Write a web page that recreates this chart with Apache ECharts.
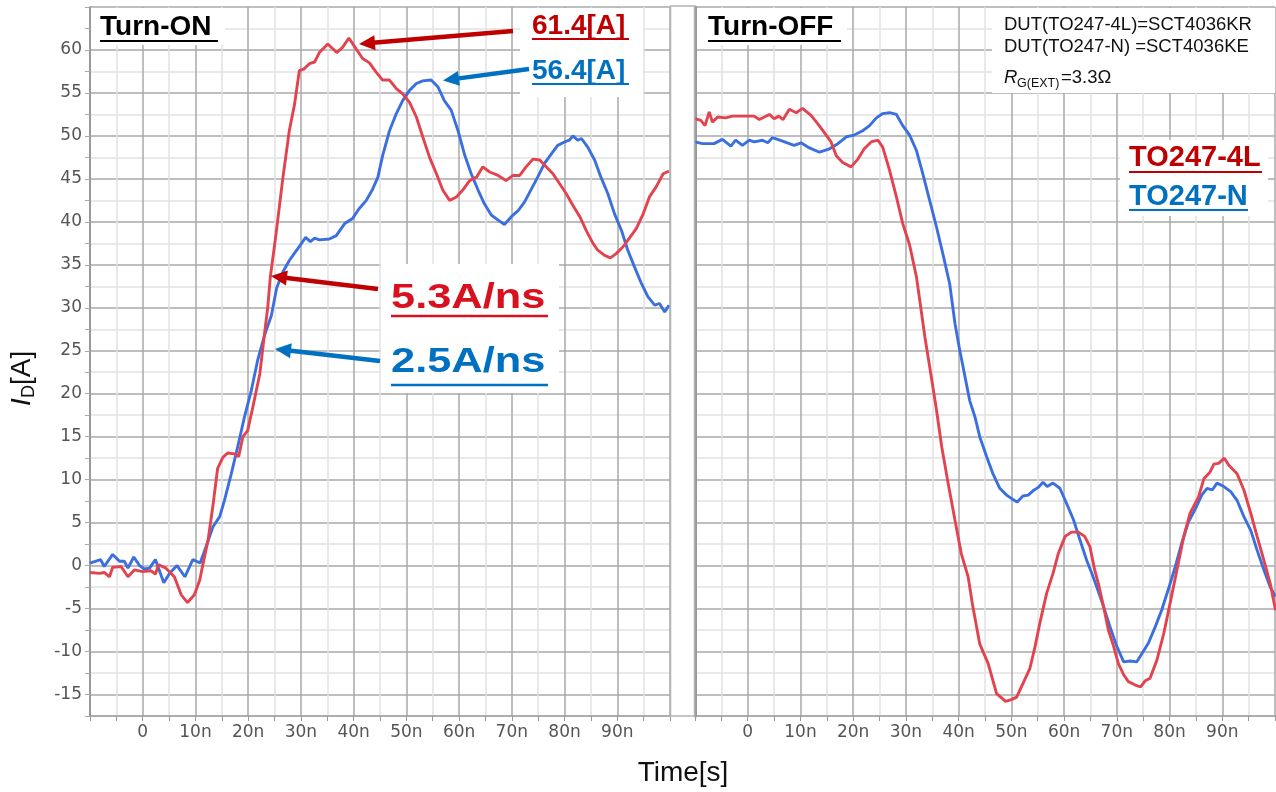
<!DOCTYPE html>
<html>
<head>
<meta charset="utf-8">
<title>Turn-ON / Turn-OFF drain current</title>
<script src="https://cdn.jsdelivr.net/npm/echarts@6/dist/echarts.min.js"></script>
<style>
html, body { margin: 0; padding: 0; background: #fff; }
#chart { width: 1276px; height: 792px; }
</style>
</head>
<body>
<div id="chart"></div>
<script>
// time in ns, current in A
var onRed = [[-10,-0.8],[-8.2,-0.9],[-7.3,-0.8],[-6.3,-1.3],[-5.7,-0.2],[-4.1,-0.1],[-2.8,-1.3],[-1.6,-0.5],[0,-0.7],[1.6,-0.6],[2.4,-1.0],[3.0,0.1],[4.4,-0.3],[6.0,-1.3],[7.3,-3.4],[8.5,-4.3],[9.8,-3.4],[10.8,-1.7],[11.6,0.7],[12.4,3.0],[13.3,6.9],[14.2,11.3],[15.2,12.6],[16.1,13.1],[17.4,13.0],[18.2,12.7],[19.0,15.0],[19.9,15.7],[20.9,18.5],[22.2,22.3],[23.1,27.0],[23.7,30.0],[24.2,33.6],[25.2,38.2],[26.6,45.2],[27.8,50.6],[28.8,53.7],[29.7,57.6],[30.6,57.8],[31.6,58.4],[32.6,58.6],[33.5,59.7],[35.1,60.7],[36.8,59.7],[37.9,60.3],[39.1,61.4],[40.5,60.1],[41.7,59.0],[43.0,58.5],[44.3,57.4],[45.5,56.5],[46.8,56.5],[48.1,55.5],[49.3,54.9],[50.6,53.9],[51.9,52.2],[53.1,49.9],[54.4,47.5],[55.7,45.6],[56.9,43.7],[58.2,42.5],[59.5,42.9],[60.7,43.7],[62.0,44.8],[63.3,45.2],[64.5,46.4],[65.8,45.8],[67.4,45.4],[68.9,44.8],[70.2,45.4],[71.5,45.4],[72.7,46.4],[74.0,47.3],[75.3,47.2],[76.5,46.4],[77.8,45.6],[79.1,44.4],[80.3,43.3],[81.6,41.9],[82.9,40.6],[84.1,39.0],[85.4,37.5],[86.3,36.7],[87.6,36.1],[88.7,35.8],[89.8,36.3],[91.1,37.1],[92.4,38.2],[93.6,39.2],[94.9,40.9],[96.1,42.9],[97.4,44.1],[98.7,45.6],[99.8,45.9]];
var onBlue = [[-10,0.3],[-9,0.5],[-8,0.7],[-7.3,-0.1],[-5.7,1.3],[-4.4,0.5],[-3.5,0.5],[-2.8,-0.3],[-1.7,1.0],[-0.6,0],[0.3,-0.4],[1.3,-0.3],[2.4,0.7],[4.0,-2.0],[5.1,-0.9],[6.5,0],[8.0,-1.3],[9.5,0.7],[10.9,0.3],[12.0,2.2],[13.3,4.5],[14.6,5.7],[15.5,7.6],[16.8,10.7],[18.0,13.8],[19.3,17.3],[20.6,20.4],[21.8,23.9],[23.1,26.8],[24.4,29.1],[25.4,32.3],[26.6,34.2],[27.8,35.5],[29.2,36.7],[30.9,38.2],[31.8,37.7],[32.6,38.1],[33.5,37.9],[35.4,38.0],[36.7,38.4],[38.3,39.8],[39.8,40.4],[41.0,41.5],[42.4,42.5],[43.6,43.8],[44.6,45.2],[45.5,47.7],[46.8,50.6],[48.1,52.6],[49.3,54.1],[50.6,55.3],[51.9,56.1],[53.1,56.4],[54.7,56.5],[56.0,55.7],[57.2,54.1],[58.5,53.0],[59.8,50.6],[61.0,47.9],[62.3,45.6],[63.6,43.7],[64.8,42.1],[66.1,40.8],[67.4,40.2],[68.6,39.7],[69.9,40.6],[71.2,41.3],[72.4,42.3],[73.7,43.8],[74.9,45.2],[76.2,46.8],[77.5,47.9],[78.7,48.9],[80.0,49.3],[80.9,49.5],[81.6,50.0],[82.5,49.5],[83.2,49.7],[84.4,48.7],[85.7,47.2],[86.9,45.2],[88.2,43.3],[89.5,40.9],[90.8,39.0],[92.0,36.7],[93.3,34.7],[94.6,32.8],[95.8,31.3],[97.1,30.3],[98.0,30.5],[99.0,29.5],[99.8,30.3]];
var offRed = [[-10,52.0],[-8.9,51.8],[-8.1,51.2],[-7.3,52.8],[-6.7,51.6],[-5.7,52.2],[-4.2,52.1],[-2.9,52.3],[-1.0,52.3],[1.2,52.3],[2.2,51.9],[4.1,52.5],[5.0,52.0],[5.9,52.3],[6.7,51.9],[7.9,53.1],[9.2,52.7],[10.4,53.2],[12.0,52.4],[13.3,51.4],[14.5,50.4],[15.8,49.3],[16.8,47.7],[18.0,46.9],[19.6,46.4],[20.9,47.3],[22.1,48.5],[23.4,49.3],[24.7,49.5],[25.6,48.7],[26.9,46.0],[28.2,42.9],[29.4,39.8],[30.7,37.3],[32.0,33.6],[33.6,26.6],[34.8,22.0],[35.8,18.1],[36.8,13.8],[38.0,9.6],[39.3,5.3],[40.5,1.4],[41.8,-1.3],[42.7,-4.8],[44.0,-9.1],[45.6,-11.4],[47.2,-14.9],[48.9,-15.8],[50.0,-15.6],[51.0,-15.3],[51.9,-14.1],[53.5,-12.0],[54.5,-9.4],[55.4,-6.7],[56.7,-3.2],[57.9,-0.9],[58.9,1.4],[60.2,3.4],[61.4,3.9],[62.7,3.9],[63.9,3.4],[64.9,2.2],[65.8,-0.5],[66.5,-2.1],[67.5,-4.8],[68.4,-7.5],[69.4,-9.4],[70.3,-11.4],[71.3,-12.7],[72.2,-13.5],[73.5,-13.9],[74.5,-14.1],[75.4,-13.4],[76.3,-13.1],[77.6,-11.0],[78.9,-7.9],[80.1,-4.4],[81.4,-0.5],[82.7,3.4],[83.9,6.1],[85.5,8.0],[86.5,10.1],[87.7,10.9],[88.4,11.8],[89.3,11.9],[90.4,12.5],[91.2,11.7],[92.8,10.7],[94.1,8.8],[95.4,6.1],[96.6,3.4],[97.9,0.6],[99.1,-2.1],[100.1,-5.2]];
var offBlue = [[-10,49.3],[-8.6,49.1],[-6.4,49.1],[-4.8,49.6],[-3.2,48.8],[-2.3,49.5],[-1.0,48.9],[0.3,49.5],[1.2,49.3],[2.8,49.5],[3.8,49.2],[4.7,49.8],[6.6,49.4],[8.8,48.9],[10.1,49.2],[11.7,48.6],[13.6,48.1],[15.5,48.5],[17.1,49.1],[18.7,49.9],[20.2,50.1],[21.8,50.6],[23.1,51.2],[24.4,52.1],[25.6,52.6],[26.9,52.7],[28.2,52.5],[29.4,51.2],[30.7,50.1],[32.0,48.3],[33.2,45.6],[34.5,42.5],[35.8,39.4],[37.0,36.3],[38.3,32.8],[39.3,28.2],[40.2,25.1],[41.2,22.0],[42.1,19.2],[43.1,17.3],[44.0,15.0],[45.3,12.7],[46.5,10.7],[47.8,9.0],[49.1,8.2],[50.3,7.7],[51.1,7.4],[52.2,8.1],[53.2,8.2],[54.1,8.7],[55.1,9.1],[56.0,9.7],[56.8,9.2],[57.9,9.6],[59.2,9.0],[60.5,7.2],[61.8,5.3],[63.0,3.0],[64.3,0.6],[65.2,-0.8],[66.2,-2.5],[67.5,-4.8],[68.7,-7.1],[70.0,-9.4],[71.3,-11.2],[72.5,-11.1],[73.8,-11.2],[74.8,-10.2],[76.0,-9.0],[77.3,-7.1],[78.5,-5.2],[79.8,-2.7],[81.1,-0.1],[82.3,2.6],[83.6,5.1],[84.9,6.6],[86.1,8.2],[87.1,9.0],[88.1,8.8],[89.0,9.6],[90.3,9.2],[91.6,8.6],[92.8,7.6],[94.1,5.7],[95.4,4.1],[96.6,1.8],[97.9,-0.5],[99.1,-2.5],[100.1,-3.6]];

var timeTicks = [0, 10, 20, 30, 40, 50, 60, 70, 80, 90];
var currentTicks = [-15, -10, -5, 0, 5, 10, 15, 20, 25, 30, 35, 40, 45, 50, 55, 60];

var RED = '#e2434e', BLUE = '#3b6fe0';
var DARKRED = '#c00000', DARKBLUE = '#0070c0';
var SANS = '"Liberation Sans", Arial, sans-serif';

var chart = echarts.init(document.getElementById('chart'), null, {renderer: 'canvas'});

function xAxisFor(idx) {
    return {
        gridIndex: idx, type: 'value', min: -10, max: 100, interval: 5,
        axisLine: {show: true, onZero: false, lineStyle: {color: '#999', width: 1.5}},
        axisTick: {show: true, length: 5, lineStyle: {color: '#999'}},
        axisLabel: {
            margin: 8, color: '#555', fontFamily: '"DejaVu Sans"', fontSize: 17,
            formatter: function (v) {
                if (timeTicks.indexOf(v) < 0) return '';
                return v === 0 ? '0' : v + 'n';
            }
        },
        splitLine: {show: true, lineStyle: {color: ['#a8a8a8', '#e2e2e2'], width: 1.5}}
    };
}
function yAxisFor(idx, labels) {
    return {
        gridIndex: idx, type: 'value', min: -17.5, max: 65, interval: 2.5,
        axisLine: {show: true, onZero: false, lineStyle: {color: '#999', width: idx ? 3 : 2}},
        axisTick: {show: labels, length: 5, lineStyle: {color: '#aaa'}},
        axisLabel: {
            show: labels, margin: 8, color: '#555', fontFamily: '"DejaVu Sans"', fontSize: 17,
            formatter: function (v) { return currentTicks.indexOf(v) < 0 ? '' : String(v); }
        },
        splitLine: {show: true, lineStyle: {color: ['#e2e2e2', '#a8a8a8'], width: 1.5}}
    };
}
function trace(name, data, color, idx) {
    return {
        name: name, type: 'line', xAxisIndex: idx, yAxisIndex: idx, data: data,
        showSymbol: false, clip: true, lineStyle: {color: color, width: 2.9},
        itemStyle: {color: color}
    };
}
function arrow(x1, y1, x2, y2, color) {
    var dx = x2 - x1, dy = y2 - y1, len = Math.sqrt(dx * dx + dy * dy);
    var ux = dx / len, uy = dy / len, hl = 16, hw = 7.5;
    var bx = x2 - ux * hl, by = y2 - uy * hl;
    return [
        {type: 'line', z: 110, shape: {x1: x1, y1: y1, x2: bx + ux * 2, y2: by + uy * 2}, style: {stroke: color, lineWidth: 4.5}},
        {type: 'polygon', z: 110, shape: {points: [[x2, y2], [bx - uy * hw, by + ux * hw], [bx + uy * hw, by - ux * hw]]}, style: {fill: color}}
    ];
}
function label(text, x, y, font, color, extra) {
    var el = {type: 'text', z: 110, x: x, y: y,
        style: {text: text, font: font, fill: color, textAlign: 'left', textVerticalAlign: 'middle'}};
    if (extra) for (var k in extra) el[k] = extra[k];
    return el;
}
function uline(x1, x2, y, color, w) {
    return {type: 'line', z: 110, shape: {x1: x1, y1: y, x2: x2, y2: y}, style: {stroke: color, lineWidth: w || 2}};
}
function box(x, y, w, h) {
    return {type: 'rect', z: 105, shape: {x: x, y: y, width: w, height: h}, style: {fill: '#fff'}};
}

var graphics = [
    // gap between the two scope windows
    {type: 'rect', z: 105, shape: {x: 670.5, y: 6, width: 24, height: 710}, style: {fill: '#fff', stroke: '#b4b4b4', lineWidth: 1.5}},
    box(91, 8, 134, 37),
    label('Turn-ON', 100, 27, 'bold 28px ' + SANS, '#000'),
    uline(100, 218, 41, '#000'),
    box(697, 8, 150, 37),
    label('Turn-OFF', 708, 27, 'bold 28px ' + SANS, '#000'),
    uline(708, 841, 41, '#000'),
    box(520, 8, 123, 89),
    label('61.4[A]', 532, 26, 'bold 28px ' + SANS, DARKRED),
    uline(532, 629, 39, DARKRED),
    label('56.4[A]', 532, 71, 'bold 28px ' + SANS, DARKBLUE),
    uline(532, 629, 84, DARKBLUE),
    box(381, 264, 178, 129),
    label('5.3A/ns', 391, 298, 'bold 35px ' + SANS, '#d9101e', {scaleX: 1.24}),
    uline(391, 548, 316, '#d9101e', 2.5),
    label('2.5A/ns', 391, 362, 'bold 35px ' + SANS, DARKBLUE, {scaleX: 1.24}),
    uline(391, 548, 385, DARKBLUE, 2.5),
    box(992, 8, 283, 85),
    label('DUT(TO247-4L)=SCT4036KR', 1004, 25, '18.5px ' + SANS, '#111'),
    label('DUT(TO247-N) =SCT4036KE', 1004, 47, '18.5px ' + SANS, '#111'),
    label('R', 1004, 78, 'italic 18.5px ' + SANS, '#111'),
    label('G(EXT)', 1017, 84, '12.5px ' + SANS, '#111'),
    label('=3.3\u03a9', 1061, 78, '18.5px ' + SANS, '#111'),
    box(1120, 140, 148, 76),
    label('TO247-4L', 1129, 158, 'bold 29px ' + SANS, DARKRED),
    uline(1129, 1262, 172, DARKRED),
    label('TO247-N', 1129, 197, 'bold 29px ' + SANS, DARKBLUE),
    uline(1129, 1248, 210, DARKBLUE),
    // axis titles
    {type: 'group', x: 22, y: 378, rotation: Math.PI / 2, children: [
        {type: 'text', x: -28, y: 0, style: {text: 'I', font: 'italic 28px ' + SANS, fill: '#111', textVerticalAlign: 'middle'}},
        {type: 'text', x: -20, y: 7, style: {text: 'D', font: '18px ' + SANS, fill: '#111', textVerticalAlign: 'middle'}},
        {type: 'text', x: -7, y: 0, style: {text: '[A]', font: '28px ' + SANS, fill: '#111', textVerticalAlign: 'middle'}}
    ]},
    {type: 'text', x: 683, y: 773, style: {text: 'Time[s]', font: '28px ' + SANS, fill: '#111', textAlign: 'center', textVerticalAlign: 'middle'}}
];
graphics = graphics.concat(
    arrow(513, 31, 359, 44, DARKRED),
    arrow(529, 69, 443, 80.5, DARKBLUE),
    arrow(378, 289, 271, 276, DARKRED),
    arrow(380, 361, 275, 349, DARKBLUE)
);

var option = {
    animation: false,
    backgroundColor: '#fff',
    grid: [
        {left: 90, top: 7, width: 580, height: 709, outerBoundsMode: 'none'},
        {left: 695, top: 7, width: 580, height: 709, outerBoundsMode: 'none'}
    ],
    xAxis: [xAxisFor(0), xAxisFor(1)],
    yAxis: [yAxisFor(0, true), yAxisFor(1, false)],
    series: [
        trace('TO247-N', onBlue, BLUE, 0),
        trace('TO247-4L', onRed, RED, 0),
        trace('TO247-N', offBlue, BLUE, 1),
        trace('TO247-4L', offRed, RED, 1)
    ],
    graphic: {elements: graphics}
};
chart.setOption(option, true);
</script>
</body>
</html>
